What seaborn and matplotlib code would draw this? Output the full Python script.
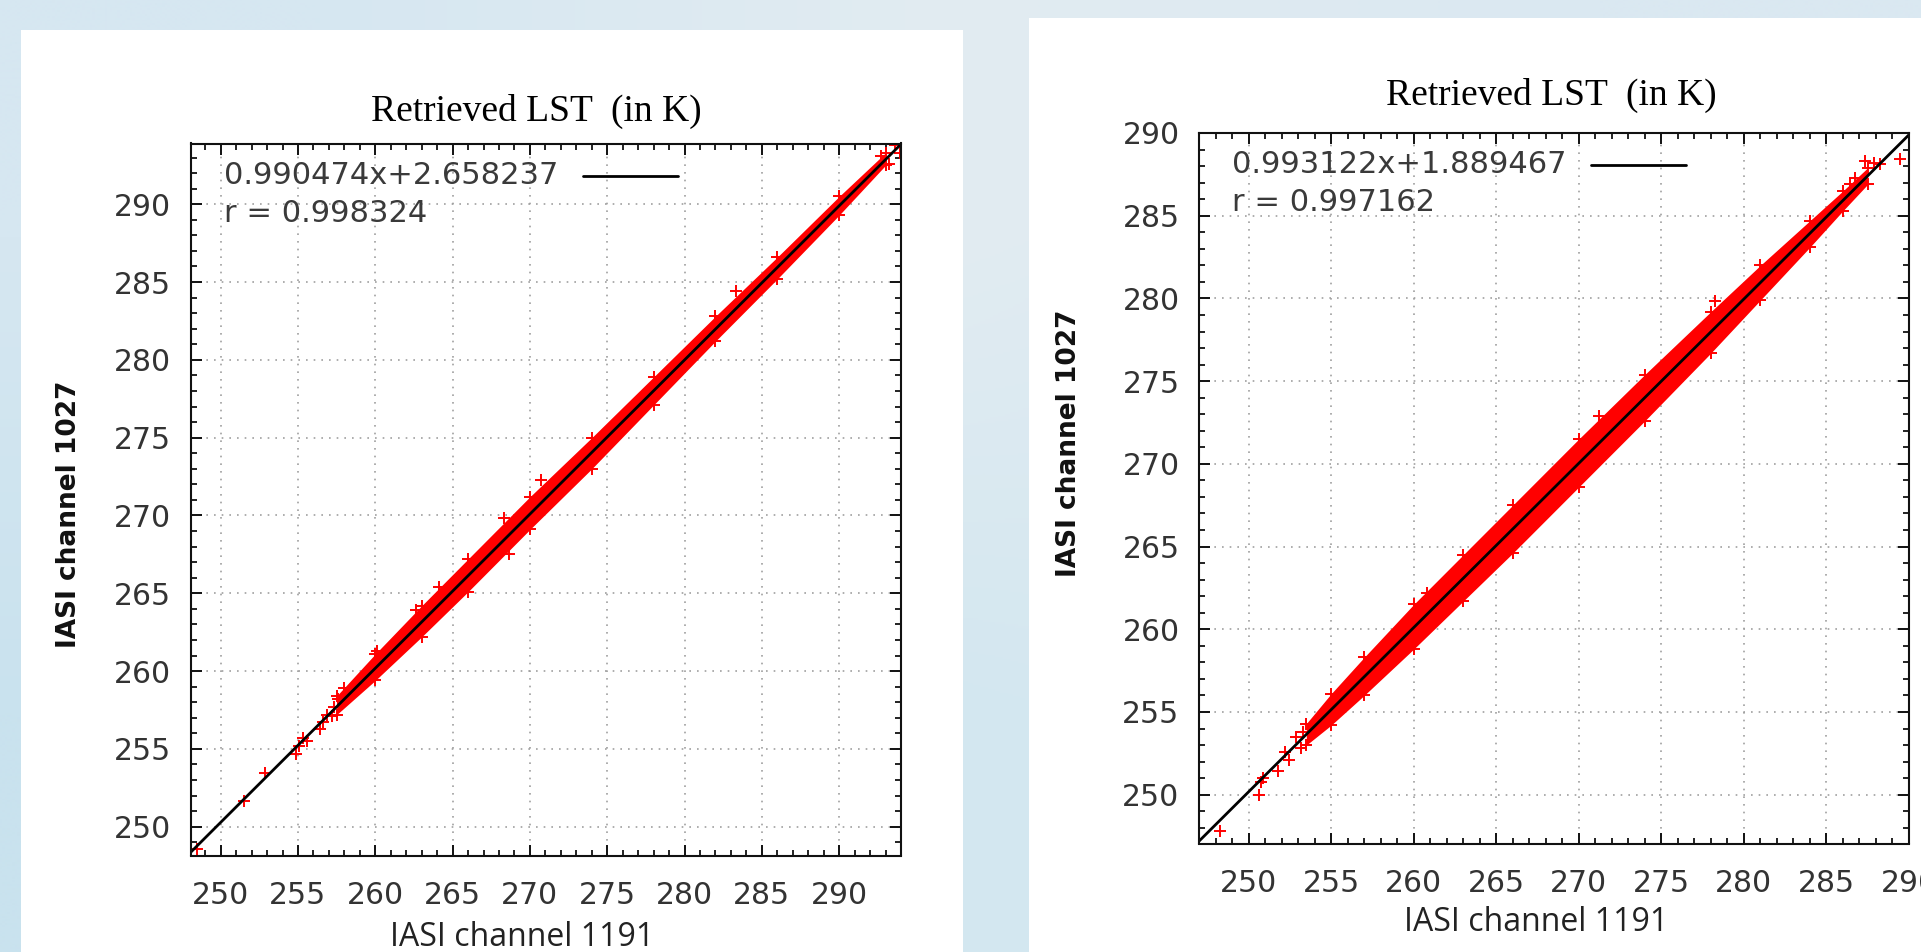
import numpy as np
import pandas as pd
import matplotlib
matplotlib.use("Agg")
import matplotlib.pyplot as plt
from matplotlib.patches import Rectangle
from matplotlib.colors import to_rgb
from matplotlib.ticker import MultipleLocator
import seaborn as sns

# ---------------- data ----------------
title_text = "Retrieved LST  (in K)"
xlabel_text = "IASI channel 1191"
ylabel_text = "IASI channel 1027"
major_ticks = [250, 255, 260, 265, 270, 275, 280, 285, 290]

# left panel
left_slope, left_intercept, left_r = 0.990474, 2.658237, 0.998324
left_xlim = (248.05, 294.0)
left_ylim = (248.15, 293.9)
left_band_x = [257.5, 260.0, 263.0, 266.0, 270.0, 274.0, 278.0, 282.0, 286.0, 290.0, 293.0]
left_band_hi = [258.4, 261.1, 264.2, 267.2, 271.2, 275.0, 278.9, 282.8, 286.6, 290.5, 293.3]
left_band_lo = [257.2, 259.4, 262.2, 265.1, 269.1, 273.0, 277.1, 281.2, 285.2, 289.3, 292.5]
left_pts_x = [248.45, 251.51, 252.84, 254.9, 255.05, 255.3, 255.6, 256.4, 256.6, 256.9,
              257.3, 257.2, 257.6, 258.0, 258.4, 270.75, 268.35, 268.65, 264.1, 260.1,
              262.66, 283.3, 293.95, 293.2, 292.7, 293.6]
left_pts_y = [248.55, 251.67, 253.43, 254.7, 255.2, 255.7, 255.5, 256.3, 256.7, 257.2,
              257.7, 257.1, 258.2, 258.9, 258.5, 272.26, 269.82, 267.5, 265.43, 261.28,
              263.95, 284.4, 293.3, 292.6, 293.1, 293.8]

# right panel
right_slope, right_intercept, right_r = 0.993122, 1.889467, 0.997162
right_xlim = (247.0, 290.0)
right_ylim = (247.05, 290.0)
right_band_x = [253.5, 255.0, 257.0, 260.0, 263.0, 266.0, 270.0, 274.0, 278.0, 281.0, 284.0, 286.0, 287.5]
right_band_hi = [254.3, 256.1, 258.3, 261.5, 264.5, 267.5, 271.5, 275.4, 279.2, 282.0, 284.7, 286.5, 287.9]
right_band_lo = [253.0, 254.2, 256.0, 258.8, 261.7, 264.6, 268.6, 272.6, 276.7, 279.9, 283.1, 285.3, 286.9]
right_pts_x = [248.27, 250.64, 250.78, 250.9, 251.76, 252.45, 252.2, 253.15, 253.3, 252.9,
               254.27, 260.8, 271.2, 278.25, 286.75, 287.34, 288.25, 289.46, 287.9, 286.4]
right_pts_y = [247.83, 250.0, 250.75, 251.0, 251.45, 252.1, 252.6, 252.84, 253.8, 253.5,
               254.2, 262.2, 272.9, 279.86, 287.25, 288.3, 288.1, 288.45, 288.2, 286.9]

# background tint (top row, bottom row; left / middle / right)
bg_top = ["#d6e7f1", "#e2ecf2", "#dae8f1"]
bg_bottom = ["#c9e2ee", "#d3e7f0", "#d9e9f1"]

# ---------------- style ----------------
sns.set_theme(style="white")
plt.rcParams["font.family"] = ["DejaVu Sans"]

W, H = 1921, 952
fig = plt.figure(figsize=(W / 100, H / 100), dpi=100)
fig.patch.set_facecolor("#d9e9f2")

# soft bluish backdrop
bg_ax = fig.add_axes([0, 0, 1, 1], zorder=-20)
bg_img = np.array([[to_rgb(c) for c in bg_top], [to_rgb(c) for c in bg_bottom]])
bg_ax.imshow(bg_img, aspect="auto", interpolation="bilinear", extent=(0, 1, 0, 1), origin="upper")
bg_ax.set_axis_off()

# white panels behind each chart (pixel coords -> figure fraction)
def px_rect(x0, y0, x1, y1):
    return (x0 / W, 1 - y1 / H, (x1 - x0) / W, (y1 - y0) / H)

for (x0, y0, x1, y1) in [(21, 30, 963, 952), (1029, 18, 1921, 952)]:
    fx, fy, fw, fh = px_rect(x0, y0, x1, y1)
    fig.patches.append(Rectangle((fx, fy), fw, fh, transform=fig.transFigure,
                                 facecolor="white", edgecolor="none", zorder=-10))

panels = [
    dict(rect=px_rect(190.5, 143.5, 901, 855.5), slope=left_slope, icpt=left_intercept, r=left_r,
         xlim=left_xlim, ylim=left_ylim, bx=left_band_x, bhi=left_band_hi, blo=left_band_lo,
         px=left_pts_x, py=left_pts_y,
         title_xy=(0.4873, 1.0456), xlab_xy=(0.4666, -0.1145), ylab_xy=(-0.171, 0.4796)),
    dict(rect=px_rect(1199, 133, 1909, 843.5), slope=right_slope, icpt=right_intercept, r=right_r,
         xlim=right_xlim, ylim=right_ylim, bx=right_band_x, bhi=right_band_hi, blo=right_band_lo,
         px=right_pts_x, py=right_pts_y,
         title_xy=(0.4965, 1.0535), xlab_xy=(0.4749, -0.1105), ylab_xy=(-0.183, 0.5640)),
]

red = "#ff0000"
for p in panels:
    ax = fig.add_axes(p["rect"])
    ax.set_zorder(1)
    ax.set_facecolor("white")

    # dense point band
    ax.fill_between(p["bx"], p["blo"], p["bhi"], color=red, lw=0, zorder=2)
    edge = pd.DataFrame({"x": p["bx"] + p["bx"], "y": p["bhi"] + p["blo"]})
    sns.scatterplot(data=edge, x="x", y="y", marker="+", s=85, color=red,
                    linewidth=1.4, ax=ax, zorder=2, legend=False)
    pts = pd.DataFrame({"x": p["px"], "y": p["py"]})
    sns.scatterplot(data=pts, x="x", y="y", marker="+", s=85, color=red,
                    linewidth=1.4, ax=ax, zorder=2, legend=False)

    # fitted line across the full x range
    fx = np.array(p["xlim"])
    fit = pd.DataFrame({"x": fx, "y": p["slope"] * fx + p["icpt"]})
    sns.lineplot(data=fit, x="x", y="y", color="black", lw=2.0, ax=ax, zorder=3)

    ax.set_xlim(*p["xlim"])
    ax.set_ylim(*p["ylim"])
    ax.set_xticks(major_ticks)
    ax.set_yticks(major_ticks)
    ax.set_xticklabels([str(t) for t in major_ticks])
    ax.set_yticklabels([str(t) for t in major_ticks])
    ax.xaxis.set_minor_locator(MultipleLocator(1))
    ax.yaxis.set_minor_locator(MultipleLocator(1))
    ax.tick_params(which="both", direction="in", top=True, right=True, bottom=True, left=True,
                   color="#111111")
    ax.tick_params(which="major", length=8, width=1.4)
    ax.tick_params(which="minor", length=4.3, width=1.3)
    ax.tick_params(axis="x", which="major", pad=18, labelsize=21.5, labelcolor="#333333")
    ax.tick_params(axis="y", which="major", pad=14, labelsize=21.5, labelcolor="#333333")
    ax.grid(True, which="major", color="#a0a0a0", lw=1.2, linestyle=(0, (1, 3.6)))
    ax.set_axisbelow(True)
    for s in ax.spines.values():
        s.set_color("#111111")
        s.set_linewidth(1.5)
        s.set_visible(True)
        s.set_zorder(4)

    # labels
    ax.set_xlabel(xlabel_text, fontsize=23, family="Open Sans", color="#222222")
    ax.xaxis.label.set_va("center")
    ax.xaxis.set_label_coords(*p["xlab_xy"])
    ax.set_ylabel(ylabel_text, fontsize=19, fontweight="bold", color="#111111")
    ax.yaxis.label.set_va("center")
    ax.yaxis.set_label_coords(*p["ylab_xy"])
    ax.set_title(title_text, family="Liberation Serif", fontsize=27, color="black",
                 x=p["title_xy"][0], y=p["title_xy"][1], va="center", pad=0)

    # key (gnuplot style: text then line sample)
    eq = f"{p['slope']:.6f}x+{p['icpt']:.6f}"
    ax.text(0.047, 0.955, eq, transform=ax.transAxes, ha="left", va="center",
            fontsize=22, color="#3a3a3a", zorder=5)
    ax.plot([0.5518, 0.6855], [0.955, 0.955], transform=ax.transAxes, color="black",
            lw=2.0, zorder=5)
    ax.text(0.047, 0.902, f"r = {p['r']:.6f}", transform=ax.transAxes, ha="left", va="center",
            fontsize=22, color="#3a3a3a", zorder=5)

fig.savefig("out.png", dpi=100, facecolor=fig.get_facecolor())
